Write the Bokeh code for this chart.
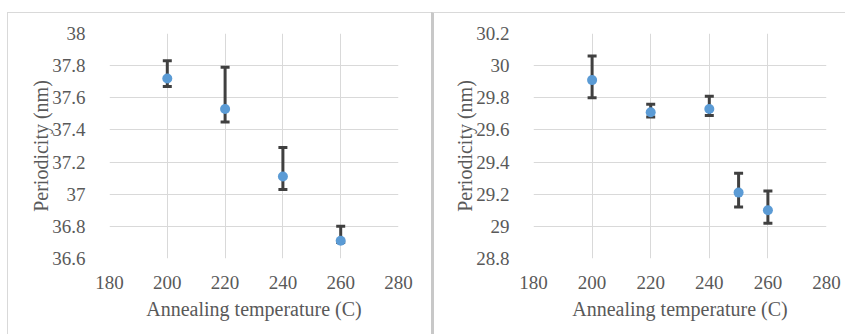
from bokeh.plotting import figure
from bokeh.models import ColumnDataSource, Whisker, TeeHead, FixedTicker
from bokeh.layouts import row
from bokeh.embed import file_html
from bokeh.resources import INLINE

# Left panel data
temp_a = [200, 220, 240, 260]
period_a = [37.72, 37.53, 37.11, 36.71]
upper_a = [37.83, 37.79, 37.29, 36.80]
lower_a = [37.67, 37.45, 37.03, 36.70]

# Right panel data
temp_b = [200, 220, 240, 250, 260]
period_b = [29.91, 29.71, 29.73, 29.21, 29.10]
upper_b = [30.06, 29.76, 29.81, 29.33, 29.22]
lower_b = [29.80, 29.68, 29.69, 29.12, 29.02]

x_ticks = [180, 200, 220, 240, 260, 280]
y_ticks_a = [36.6, 36.8, 37.0, 37.2, 37.4, 37.6, 37.8, 38.0]
y_labels_a = ["36.6", "36.8", "37", "37.2", "37.4", "37.6", "37.8", "38"]
y_ticks_b = [28.8, 29.0, 29.2, 29.4, 29.6, 29.8, 30.0, 30.2]
y_labels_b = ["28.8", "29", "29.2", "29.4", "29.6", "29.8", "30", "30.2"]

FONT = "Liberation Serif"
TXT = "#595959"
GRID = "#d9d9d9"
BLUE = "#5b9bd5"
BAR = "#404040"


def make_panel(xs, ys, up, lo, yticks, ylabels, width, bl, br):
    p = figure(width=width, height=322, output_backend="svg", toolbar_location=None,
               x_range=(180, 280), y_range=(yticks[0], yticks[-1]),
               min_border_left=bl, min_border_right=br, min_border_top=20, min_border_bottom=77)
    p.outline_line_color = None
    p.background_fill_color = "white"
    p.border_fill_color = "white"
    for ax in (p.xaxis[0], p.yaxis[0]):
        ax.axis_line_color = None
        ax.major_tick_line_color = None
        ax.minor_tick_line_color = None
        ax.major_label_text_font = FONT
        ax.major_label_text_font_size = "19px"
        ax.major_label_text_color = TXT
        ax.axis_label_text_font = FONT
        ax.axis_label_text_font_size = "20px"
        ax.axis_label_text_font_style = "normal"
        ax.axis_label_text_color = TXT
    p.xaxis.ticker = FixedTicker(ticks=x_ticks)
    p.yaxis.ticker = FixedTicker(ticks=yticks)
    p.yaxis.major_label_overrides = {t: l for t, l in zip(yticks, ylabels)}
    p.xaxis.major_label_standoff = 11
    p.yaxis.major_label_standoff = 18
    p.xaxis.axis_label = "Annealing temperature (C)"
    p.yaxis.axis_label = "Periodicity (nm)"
    p.xaxis.axis_label_standoff = 6
    p.yaxis.axis_label_standoff = -3
    p.xgrid.grid_line_color = GRID
    p.ygrid.grid_line_color = GRID
    p.xgrid.ticker = FixedTicker(ticks=x_ticks)
    p.ygrid.ticker = FixedTicker(ticks=yticks)

    src = ColumnDataSource(dict(x=xs, y=ys, upper=up, lower=lo))
    w = Whisker(base="x", upper="upper", lower="lower", source=src,
                line_color=BAR, line_width=3,
                upper_head=TeeHead(size=9, line_color=BAR, line_width=3),
                lower_head=TeeHead(size=9, line_color=BAR, line_width=3))
    p.add_layout(w)
    p.scatter("x", "y", source=src, size=10, fill_color=BLUE, line_color=None)
    return p


p1 = make_panel(temp_a, period_a, upper_a, lower_a, y_ticks_a, y_labels_a, 424, 101, 34)
p1.margin = (12, 0, 0, 7)
p1.styles = {"border-top": "1px solid #d9d9d9", "border-left": "1px solid #d9d9d9"}

p2 = make_panel(temp_b, period_b, upper_b, lower_b, y_ticks_b, y_labels_b, 414, 99, 22)
p2.margin = (12, 0, 0, 0)
p2.styles = {"border-top": "1px solid #d9d9d9", "border-left": "3px solid #c8c8c8"}

layout = row(p1, p2)
open("out.html", "w").write(file_html(layout, INLINE))
